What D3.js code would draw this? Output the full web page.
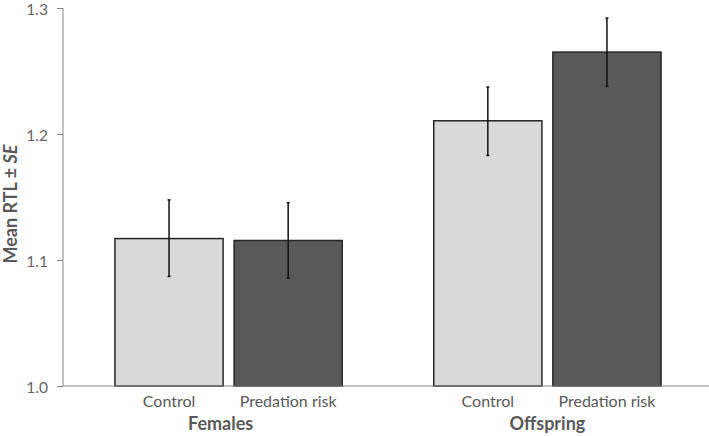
<!DOCTYPE html>
<html><head><meta charset="utf-8">
<script src="https://cdn.jsdelivr.net/npm/d3@7"></script>
<style>body{margin:0;background:#fff}svg{display:block}</style>
</head><body>
<svg id="chart" width="709" height="436"></svg>
<script>
const groups = ["Females", "Offspring"];
const treatments = ["Control", "Predation risk"];
const means = [[1.117, 1.1155], [1.2105, 1.265]];
const seLow = [[1.087, 1.0855], [1.183, 1.2378]];
const seHigh = [[1.1477, 1.1455], [1.2373, 1.292]];
const yTicks = [1.0, 1.1, 1.2, 1.3];
const fills = ["#d9d9d9", "#595959"];

const svg = d3.select("#chart");
const font = "Lato, 'Open Sans', sans-serif";
const y = d3.scaleLinear().domain([1.0, 1.3]).range([386, 8]);
const x0 = d3.scaleBand().domain(groups).range([63, 713]).paddingInner(0.287).paddingOuter(0.163);
const x1 = d3.scaleBand().domain(treatments).range([0, x0.bandwidth()]).paddingInner(0.092);

// y axis
const yAxis = d3.axisLeft(y).tickValues(yTicks).tickFormat(d3.format(".1f")).tickSize(6).tickPadding(9);
const ya = svg.append("g").attr("transform", "translate(63,0)").call(yAxis);
ya.select(".domain").attr("stroke", "#868686").attr("stroke-width", 1).attr("d", `M0,${y(1.0)}V${y(1.3)}`);
ya.selectAll(".tick line").attr("stroke", "#868686");
ya.selectAll(".tick text").attr("fill", "#666").attr("dy", "0.4em").style("font-family", font).style("font-size", "15.5px");

// bars
const data = [];
groups.forEach((g, gi) => treatments.forEach((t, ti) => data.push({g, t, ti, m: means[gi][ti], lo: seLow[gi][ti], hi: seHigh[gi][ti]})));

svg.append("g").selectAll("rect").data(data).join("rect")
  .attr("x", d => x0(d.g) + x1(d.t))
  .attr("y", d => y(d.m))
  .attr("width", x1.bandwidth())
  .attr("height", d => y(1.0) - y(d.m))
  .attr("fill", d => fills[d.ti])
  .attr("stroke", "#262626").attr("stroke-width", 1.5);

// x baseline
svg.append("line").attr("x1", 63).attr("x2", 709).attr("y1", y(1.0)).attr("y2", y(1.0))
  .attr("stroke", "#868686").attr("stroke-width", 1.2);

// error bars
const eb = svg.append("g").selectAll("g").data(data).join("g")
  .attr("transform", d => `translate(${x0(d.g) + x1(d.t) + x1.bandwidth() / 2},0)`);
eb.append("line").attr("y1", d => y(d.lo)).attr("y2", d => y(d.hi)).attr("stroke", "#111").attr("stroke-width", 1.5);
eb.append("line").attr("x1", -1.5).attr("x2", 1.5).attr("y1", d => y(d.hi)).attr("y2", d => y(d.hi)).attr("stroke", "#111").attr("stroke-width", 1.5);
eb.append("line").attr("x1", -1.5).attr("x2", 1.5).attr("y1", d => y(d.lo)).attr("y2", d => y(d.lo)).attr("stroke", "#111").attr("stroke-width", 1.5);

// category labels
svg.append("g").selectAll("text").data(data).join("text")
  .attr("x", d => x0(d.g) + x1(d.t) + x1.bandwidth() / 2)
  .attr("y", 407).attr("text-anchor", "middle")
  .attr("fill", "#595959").style("font-family", font).style("font-size", "16px")
  .text(d => d.t);

// group labels
svg.append("g").selectAll("text").data(groups).join("text")
  .attr("x", d => x0(d) + x0.bandwidth() / 2 - (d === "Females" ? 8 : 0))
  .attr("y", 430).attr("text-anchor", "middle")
  .attr("fill", "#595959").style("font-family", font).style("font-size", "18px").style("font-weight", "bold")
  .text(d => d);

// y title
const yt = svg.append("text").attr("transform", "translate(17,204) rotate(-90)")
  .attr("text-anchor", "middle").attr("fill", "#595959")
  .style("font-family", font).style("font-size", "18px").style("font-weight", "bold");
yt.append("tspan").text("Mean RTL ± ");
yt.append("tspan").style("font-style", "italic").text("SE");
</script>
</body></html>
